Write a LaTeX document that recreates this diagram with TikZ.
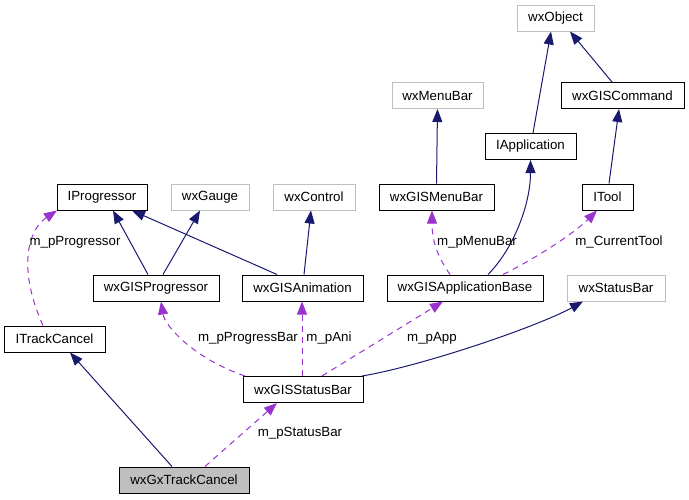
\documentclass[tikz,border=0pt]{standalone}
\usepackage{fontspec}
\setmainfont{Liberation Sans}
\usetikzlibrary{arrows.meta}

\definecolor{inh}{HTML}{191970}
\definecolor{use}{HTML}{9A32CD}
\definecolor{ext}{HTML}{BFBFBF}

\begin{document}
\begin{tikzpicture}[x=1pt, y=-1pt, >={Triangle[length=13pt,width=10pt]},
    font=\fontsize{13.3}{16}\selectfont,
    cls/.style={draw, line width=1pt, minimum height=26pt, inner sep=0pt},
    extcls/.style={cls, draw=ext},
    inherit/.style={->, draw=inh, line width=1pt},
    member/.style={->, draw=use, line width=1pt, dash pattern=on 6pt off 5pt}]
                \useasboundingbox (0,0) rectangle (689,499);

                % Klassen
                \node[extcls, minimum width=77pt] (obj) at (555.5,18) {wxObject};
                \node[extcls, minimum width=91pt] (menubar) at (437.5,95.5) {wxMenuBar};
                \node[cls, minimum width=123pt] (cmd) at (622.5,95.5) {wxGISCommand};
                \node[cls, minimum width=91pt] (app) at (530.5,146.5) {IApplication};
                \node[cls, minimum width=115pt] (gmenu) at (436.5,197) {wxGISMenuBar};
                \node[cls, minimum width=51pt] (tool) at (607.5,197) {ITool};
                \node[cls, minimum width=90pt] (prog) at (102,197) {IProgressor};
                \node[extcls, minimum width=78pt] (gauge) at (210,197) {wxGauge};
                \node[extcls, minimum width=82pt] (ctrl) at (314,197) {wxControl};
                \node[cls, minimum width=126pt] (gprog) at (156,288) {wxGISProgressor};
                \node[cls, minimum width=121pt] (anim) at (302.5,288) {wxGISAnimation};
                \node[cls, minimum width=156pt] (appbase) at (465,288) {wxGISApplicationBase};
                \node[extcls, minimum width=98pt] (statbar) at (616,288) {wxStatusBar};
                \node[cls, minimum width=101pt] (itc) at (54.5,339) {ITrackCancel};
                \node[cls, minimum width=120pt] (sbar) at (303,389.5) {wxGISStatusBar};
                \node[cls, minimum width=130pt, fill=ext] (gxt) at (184,480) {wxGxTrackCancel};

                % Vererbung
                \draw[inherit] ([xshift=2.5pt]app.north) -- ([xshift=-4.5pt]obj.south);
                \draw[inherit] ([xshift=-10.5pt]cmd.north) -- ([xshift=14.5pt]obj.south);
                \draw[inherit] (gmenu.north) -- (menubar.south);
                \draw[inherit] ([xshift=1.5pt]tool.north) -- ([xshift=-3.5pt]cmd.south);
                \draw[inherit] ([xshift=-8pt]gprog.north) -- ([xshift=11pt]prog.south);
                \draw[inherit] ([xshift=7pt]gprog.north) -- ([xshift=-10pt]gauge.south);
                \draw[inherit] ([xshift=-25.5pt]anim.north) -- ([xshift=30pt]prog.south);
                \draw[inherit] ([xshift=1.5pt]anim.north) -- ([xshift=-3pt]ctrl.south);
                \draw[inherit] ([xshift=23pt]appbase.north) .. controls +(25,-25) and +(0,45) .. (app.south);
                \draw[inherit] ([xshift=59pt]sbar.north) .. controls +(60,-10) and +(-45,25) .. ([xshift=-33pt]statbar.south);
                \draw[inherit] ([xshift=-12pt]gxt.north) -- ([xshift=15.5pt]itc.south);

                % Member
                \draw[member] ([xshift=-11.5pt]itc.north) .. controls +(-25,-55) and +(-30,20) .. ([xshift=-45pt]prog.south);
                \draw[member] ([xshift=-58pt]sbar.north) .. controls +(-50,-17) and +(4,25) .. ([xshift=5pt]gprog.south);
                \draw[member] ([xshift=-1pt]sbar.north) -- ([xshift=-0.5pt]anim.south);
                \draw[member] ([xshift=19pt]sbar.north) -- ([xshift=-22pt]appbase.south);
                \draw[member] ([xshift=-15pt]appbase.north) .. controls +(-14,-20) and +(0,28) .. ([xshift=-4.5pt]gmenu.south);
                \draw[member] ([xshift=38pt]appbase.north) .. controls +(40,-20) and +(-20,20) .. ([xshift=-10.5pt]tool.south);
                \draw[member] ([xshift=21pt]gxt.north) -- ([xshift=-26pt]sbar.south);

                % Beschriftungen
                \node (lprog) at (75,242) {m\_pProgressor};
                \node (lbar) at (248,338) {m\_pProgressBar};
                \node (lani) at (329,338) {m\_pAni};
                \node (lapp) at (432,338) {m\_pApp};
                \node (lmenu) at (477,242) {m\_pMenuBar};
                \node (ltool) at (619,242) {m\_CurrentTool};
                \node (lsbar) at (300,433) {m\_pStatusBar};
\end{tikzpicture}
\end{document}
